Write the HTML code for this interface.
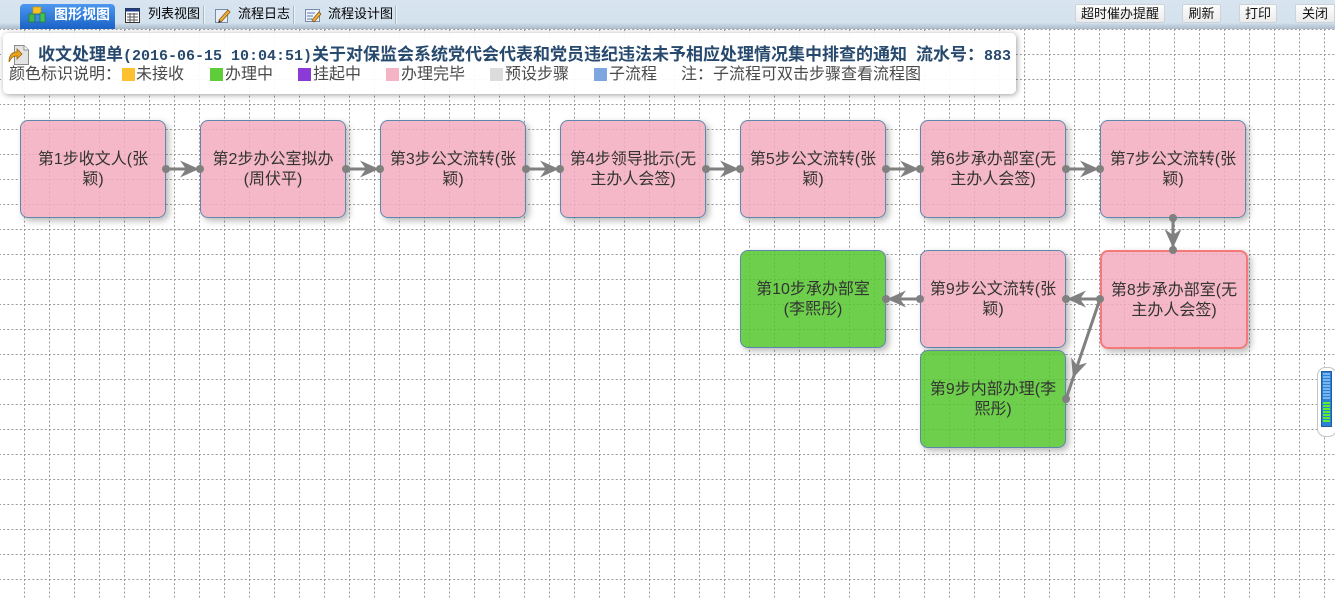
<!DOCTYPE html>
<html><head><meta charset="utf-8">
<style>
*{box-sizing:border-box;margin:0;padding:0}
body{width:1335px;height:599px;overflow:hidden;background:#fff;position:relative;font-family:"Liberation Sans","Noto Sans CJK SC",sans-serif}
.a{position:absolute}
#hdr{left:0;top:0;width:1335px;height:29px;background:linear-gradient(to bottom,#d8e5f1 0,#d4e2ee 23px,#c3d2df 25px,#abbbcb 29px)}
.tabt{position:absolute;top:6px;font-size:13px;line-height:16px;color:#000;white-space:nowrap}
.sep{position:absolute;top:6px;width:2px;height:18px;border-left:1px solid #a9b6c3;border-right:1px solid #eef3f8}
.btn{position:absolute;top:4px;height:19px;border:1px solid #cdd3da;border-radius:2px;background:linear-gradient(#fdfdfd,#ebebeb);font-size:13px;line-height:17px;text-align:center;color:#111;white-space:nowrap}
#panel{left:3px;top:33px;width:1013px;height:61px;border-radius:5px;background:rgba(255,255,255,0.93);box-shadow:1px 1px 6px rgba(0,0,0,0.38)}
.title{left:38px;top:43px;font-family:"Noto Sans CJK SC",sans-serif;font-size:17px;font-weight:bold;line-height:20px;color:#27496d;white-space:nowrap}
.m{font-family:"Liberation Mono",monospace;font-size:15px;font-weight:bold}
.lg{position:absolute;top:65px;font-family:"Liberation Sans","Noto Sans CJK SC",sans-serif;font-size:16px;line-height:20px;color:#4a4a4a;white-space:nowrap}
.sq{position:absolute;top:68px;width:13px;height:13px}
.node{position:absolute;width:146px;height:98px;border:1px solid #5d87ad;border-radius:8px;display:flex;align-items:center;justify-content:center;text-align:center;font-size:16px;line-height:20px;color:#333;padding-top:2px;box-shadow:3px 3px 7px rgba(0,0,0,0.28);white-space:nowrap}
.pk{background:rgba(243,171,190,0.85)}
.gr{background:rgba(84,199,44,0.85)}
</style></head><body>

<svg class="a" style="left:0;top:0" width="1335" height="599">
<defs>
<pattern id="g" x="24" y="4" width="25" height="25" patternUnits="userSpaceOnUse">
<line x1="0.5" y1="0" x2="0.5" y2="25" stroke="#9a9a9a" stroke-width="1" stroke-dasharray="2 2.1667"/>
<line x1="0" y1="0.5" x2="25" y2="0.5" stroke="#9a9a9a" stroke-width="1" stroke-dasharray="2 2.1667"/>
</pattern>
</defs>
<rect x="0" y="29" width="1335" height="570" fill="url(#g)"/>
</svg>

<div id="hdr" class="a"></div>
<div class="a" style="left:20px;top:4px;width:95px;height:25px;border-radius:4px 4px 0 0;background:linear-gradient(#4c97ef,#1a63c6)"></div>
<svg class="a" style="left:28px;top:6px" width="18" height="18">
<rect x="5" y="1" width="8" height="8" fill="#f7c21f" stroke="#c8901a" stroke-width="0.8"/>
<rect x="1" y="8" width="6" height="8" fill="#3fb54a" stroke="#2a7d33" stroke-width="0.8"/>
<rect x="7" y="8" width="5" height="8" fill="#3a8de0" stroke="#1f5c9e" stroke-width="0.8"/>
<rect x="12" y="7" width="5" height="9" fill="#46c25a" stroke="#2a7d33" stroke-width="0.8"/>
</svg>
<div class="a" style="left:54px;top:6px;font-size:14px;line-height:17px;font-weight:bold;color:#fff;white-space:nowrap">图形视图</div>

<svg class="a" style="left:124px;top:7px" width="17" height="17">
<rect x="1.5" y="1.5" width="14" height="14" fill="#fff" stroke="#333" stroke-width="1"/>
<rect x="1.5" y="1.5" width="14" height="3" fill="#1c3e8a"/>
<path d="M3 7h11M3 10h11M3 13h11M6 6v9M10 6v9" stroke="#555" stroke-width="1"/>
</svg>
<div class="tabt" style="left:148px">列表视图</div>
<div class="sep" style="left:203px"></div>

<svg class="a" style="left:214px;top:7px" width="17" height="17">
<rect x="1.5" y="2.5" width="12" height="13" fill="#e8eef8" stroke="#7a8aa8" stroke-width="1"/>
<path d="M5 13 L14 3 L16 5 L7 15 Z" fill="#f2b33a" stroke="#8a5a10" stroke-width="0.8"/>
<path d="M5 13 L4 16 L7 15 Z" fill="#333"/>
</svg>
<div class="tabt" style="left:238px">流程日志</div>
<div class="sep" style="left:293px"></div>

<svg class="a" style="left:304px;top:7px" width="18" height="17">
<rect x="1.5" y="2.5" width="14" height="12" fill="#f0f4fa" stroke="#7a8aa8" stroke-width="1"/>
<path d="M3 6h8M3 9h6M3 12h5" stroke="#5b7bb5" stroke-width="1"/>
<path d="M8 13 L15 5 L17 7 L10 15 Z" fill="#f2b33a" stroke="#8a5a10" stroke-width="0.8"/>
</svg>
<div class="tabt" style="left:328px">流程设计图</div>
<div class="sep" style="left:395px"></div>

<div class="btn" style="left:1075px;width:90px">超时催办提醒</div>
<div class="btn" style="left:1182px;width:39px">刷新</div>
<div class="btn" style="left:1239px;width:38px">打印</div>
<div class="btn" style="left:1295px;width:40px">关闭</div>

<div id="panel" class="a"></div>
<svg class="a" style="left:7px;top:43px" width="23" height="24">
<path d="M7.5 2.5 H17 L21.5 7 V21.5 H7.5 Z" fill="#e4e4e4" stroke="#8c8c8c" stroke-width="1"/>
<path d="M17 2.5 V7 H21.5" fill="#fff" stroke="#8c8c8c" stroke-width="1"/>
<path d="M2 19 C2 12 5 9 10 9 L10 6 L15 11 L10 16 L10 13 C6 13 4 15 2 19 Z" fill="#e8a21c" stroke="#9a6410" stroke-width="0.8"/>
</svg>
<div class="a title">收文处理单<span class="m">(2016-06-15 10:04:51)</span>关于对保监会系统党代会代表和党员违纪违法未予相应处理情况集中排查的通知<span class="m"> </span>流水号：<span class="m">883</span></div>

<div class="lg" style="left:9px">颜色标识说明：</div>
<div class="sq" style="left:122px;background:#fdc02e"></div><div class="lg" style="left:136px">未接收</div>
<div class="sq" style="left:210px;background:#5fcc3a"></div><div class="lg" style="left:225px">办理中</div>
<div class="sq" style="left:298px;background:#8a3ad6"></div><div class="lg" style="left:313px">挂起中</div>
<div class="sq" style="left:386px;background:#f5b3c6"></div><div class="lg" style="left:401px">办理完毕</div>
<div class="sq" style="left:490px;background:#dcdcdc"></div><div class="lg" style="left:505px">预设步骤</div>
<div class="sq" style="left:594px;background:#7ea6e0"></div><div class="lg" style="left:609px">子流程</div>
<div class="lg" style="left:681px">注：子流程可双击步骤查看流程图</div>

<div class="node pk" style="left:20px;top:120px">第1步收文人(张<br>颖)</div>
<div class="node pk" style="left:200px;top:120px">第2步办公室拟办<br>(周伏平)</div>
<div class="node pk" style="left:380px;top:120px">第3步公文流转(张<br>颖)</div>
<div class="node pk" style="left:560px;top:120px">第4步领导批示(无<br>主办人会签)</div>
<div class="node pk" style="left:740px;top:120px">第5步公文流转(张<br>颖)</div>
<div class="node pk" style="left:920px;top:120px">第6步承办部室(无<br>主办人会签)</div>
<div class="node pk" style="left:1100px;top:120px">第7步公文流转(张<br>颖)</div>

<div class="node gr" style="left:740px;top:250px">第10步承办部室<br>(李熙彤)</div>
<div class="node pk" style="left:920px;top:250px">第9步公文流转(张<br>颖)</div>
<div class="node pk" style="left:1100px;top:250px;width:148px;height:99px;border:2px solid #f47a7a">第8步承办部室(无<br>主办人会签)</div>
<div class="node gr" style="left:920px;top:350px">第9步内部办理(李<br>熙彤)</div>

<svg class="a" style="left:0;top:0" width="1335" height="599">
<g stroke="#808080" stroke-width="3" fill="none">
<line x1="166" y1="169" x2="200" y2="169"/>
<line x1="346" y1="169" x2="380" y2="169"/>
<line x1="526" y1="169" x2="560" y2="169"/>
<line x1="706" y1="169" x2="740" y2="169"/>
<line x1="886" y1="169" x2="920" y2="169"/>
<line x1="1066" y1="169" x2="1100" y2="169"/>
<line x1="1173" y1="218" x2="1173" y2="250"/>
<line x1="1100" y1="299" x2="1066" y2="299"/>
<line x1="920" y1="299" x2="886" y2="299"/>
<line x1="1100" y1="299" x2="1066" y2="399"/>
</g>
<g fill="#808080">
<polygon points="199,169 180,160.5 186,169 180,177.5"/>
<polygon points="379,169 360,160.5 366,169 360,177.5"/>
<polygon points="559,169 540,160.5 546,169 540,177.5"/>
<polygon points="739,169 720,160.5 726,169 720,177.5"/>
<polygon points="919,169 900,160.5 906,169 900,177.5"/>
<polygon points="1099,169 1080,160.5 1086,169 1080,177.5"/>
<polygon points="1173,248 1164.5,229 1173,235 1181.5,229"/>
<polygon points="1067,299 1086,290.5 1080,299 1086,307.5"/>
<polygon points="887,299 906,290.5 900,299 906,307.5"/>
<polygon points="1073,378 1087.1,362.7 1077.2,365.6 1071.1,357.3"/>
<circle cx="166" cy="169" r="4"/><circle cx="200" cy="169" r="4"/>
<circle cx="346" cy="169" r="4"/><circle cx="380" cy="169" r="4"/>
<circle cx="526" cy="169" r="4"/><circle cx="560" cy="169" r="4"/>
<circle cx="706" cy="169" r="4"/><circle cx="740" cy="169" r="4"/>
<circle cx="886" cy="169" r="4"/><circle cx="920" cy="169" r="4"/>
<circle cx="1066" cy="169" r="4"/><circle cx="1100" cy="169" r="4"/>
<circle cx="1173" cy="218" r="4"/><circle cx="1173" cy="250" r="4"/>
<circle cx="1100" cy="299" r="4"/><circle cx="1066" cy="299" r="4"/>
<circle cx="920" cy="299" r="4"/><circle cx="886" cy="299" r="4"/>
<circle cx="1066" cy="399" r="4"/>
</g>

<rect x="1317.5" y="367.5" width="19" height="69" rx="8" fill="#fff" stroke="#c4c4c4" stroke-width="1"/>
<rect x="1321.5" y="371.5" width="10" height="55" fill="#2f7fd3" stroke="#1d5ea8" stroke-width="1"/>
<g fill="#79b6f0">
<rect x="1323" y="373" width="7" height="2"/><rect x="1323" y="376" width="7" height="2"/>
<rect x="1323" y="379" width="7" height="2"/><rect x="1323" y="382" width="7" height="2"/>
<rect x="1323" y="385" width="7" height="2"/><rect x="1323" y="388" width="7" height="2"/>
<rect x="1323" y="391" width="7" height="2"/><rect x="1323" y="394" width="7" height="2"/>
<rect x="1323" y="397" width="7" height="2"/>
</g>
<g fill="#5cf02a">
<rect x="1323" y="402" width="7" height="2"/><rect x="1323" y="405" width="7" height="2"/>
<rect x="1323" y="408" width="7" height="2"/><rect x="1323" y="411" width="7" height="2"/>
<rect x="1323" y="414" width="7" height="2"/><rect x="1323" y="417" width="7" height="2"/>
<rect x="1323" y="420" width="7" height="2"/>
</g>
</svg>
</body></html>
